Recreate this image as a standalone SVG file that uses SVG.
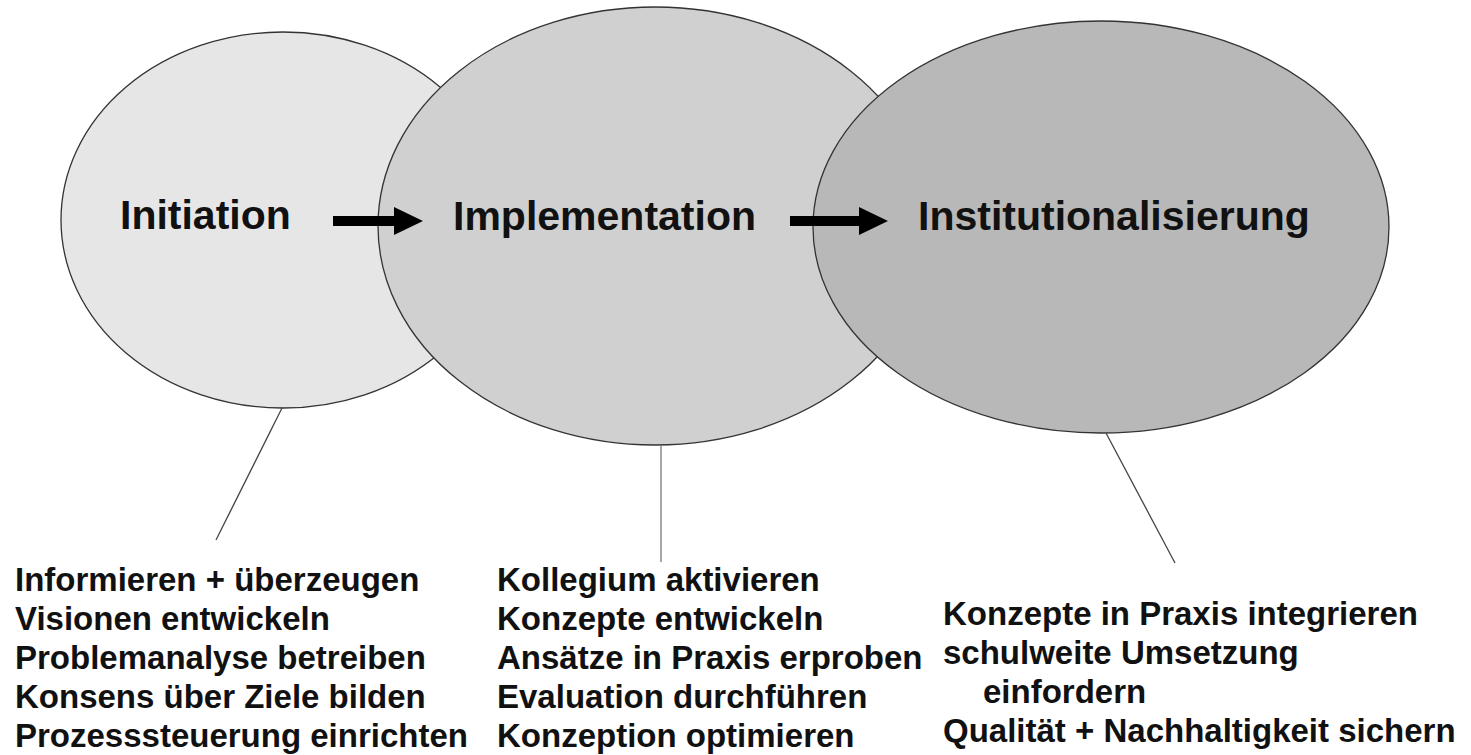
<svg xmlns="http://www.w3.org/2000/svg" width="1471" height="755" viewBox="0 0 1471 755">
<style>
.ell{stroke:#333;stroke-width:1.3}
.title{font-family:"Liberation Sans",Arial,sans-serif;font-weight:bold;font-size:41px;fill:#111}
.body{font-family:"Liberation Sans",Arial,sans-serif;font-weight:bold;font-size:33px;fill:#111}
.conn{stroke:#444;stroke-width:1.3;fill:none}
.arrow{fill:#000}
</style>
<rect width="1471" height="755" fill="#fff"/>
<g id="node-initiation">
<ellipse class="ell" cx="283" cy="220" rx="222" ry="188" fill="#e6e6e6"/>
</g>
<g id="node-implementation">
<ellipse class="ell" cx="655" cy="226" rx="277" ry="219" fill="#d0d0d0"/>
</g>
<g id="node-institutionalisierung">
<ellipse class="ell" cx="1101" cy="227" rx="288" ry="206" fill="#b8b8b8"/>
</g>
<g id="titles">
<text class="title" x="120" y="229">Initiation</text>
<text class="title" x="453" y="230">Implementation</text>
<text class="title" x="918" y="230">Institutionalisierung</text>
</g>
<g id="connectors">
<path class="arrow" d="M333,216 H394 V207 L423,221 L394,235 V226 H333 Z"/>
<path class="arrow" d="M790,216 H859 V207 L888,221 L859,235 V226 H790 Z"/>
<line class="conn" x1="282" y1="408" x2="216" y2="540"/>
<line class="conn" x1="661" y1="445" x2="661" y2="562" stroke="#777" style="stroke:#777"/>
<line class="conn" x1="1106" y1="433" x2="1175" y2="563"/>
</g>
<g id="list-initiation">
<text class="body" x="15" y="591">Informieren + überzeugen</text>
<text class="body" x="15" y="630">Visionen entwickeln</text>
<text class="body" x="15" y="669">Problemanalyse betreiben</text>
<text class="body" x="15" y="708">Konsens über Ziele bilden</text>
<text class="body" x="15" y="747">Prozesssteuerung einrichten</text>
</g>
<g id="list-implementation">
<text class="body" x="497" y="591">Kollegium aktivieren</text>
<text class="body" x="497" y="630">Konzepte entwickeln</text>
<text class="body" x="497" y="669">Ansätze in Praxis erproben</text>
<text class="body" x="497" y="708">Evaluation durchführen</text>
<text class="body" x="497" y="747">Konzeption optimieren</text>
</g>
<g id="list-institutionalisierung">
<text class="body" x="943" y="625">Konzepte in Praxis integrieren</text>
<text class="body" x="943" y="664">schulweite Umsetzung</text>
<text class="body" x="983" y="703">einfordern</text>
<text class="body" x="943" y="742">Qualität + Nachhaltigkeit sichern</text>
</g>
</svg>
